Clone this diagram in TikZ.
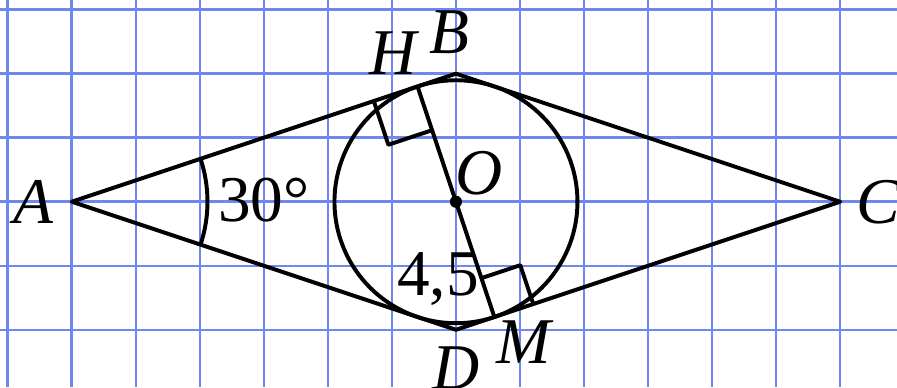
\documentclass[tikz,border=0pt]{standalone}
\usepackage{fontspec}
\setmainfont{Liberation Serif}
\usetikzlibrary{calc}
\definecolor{gridblue}{RGB}{112,135,242}
\begin{document}
\begin{tikzpicture}[x=1cm,y=1cm,
  gridline/.style={draw=gridblue,line width=1.1pt},
  fig/.style={draw=black,line width=1.75pt,line join=round},
  lbl/.style={font=\fontsize{29}{34}\selectfont\itshape,inner sep=0pt},
  num/.style={font=\fontsize{29}{34}\selectfont,inner sep=0pt}]
\useasboundingbox (-1.12,-2.894) rectangle (12.887,3.15);
\foreach \x in {-1,...,12} \draw[gridline] (\x,-2.894) -- (\x,3.15);
\foreach \y in {-2,...,3} \draw[gridline] (-1.12,\y) -- (12.887,\y);
\coordinate (A) at (0,0);
\coordinate (B) at (6,2);
\coordinate (C) at (12,0);
\coordinate (D) at (6,-2);
\coordinate (O) at (6,0);
\coordinate (H) at (5.4,1.8);
\coordinate (M) at (6.6,-1.8);
\draw[fig] (A) -- (B) -- (C) -- (D) -- cycle;
\draw[fig] (O) circle (1.897);
\draw[fig] (H) -- (M);
% right angle marks
\draw[fig] ($(H)!0.72cm!(A)$) -- ($(H)!0.72cm!(A) + (H)!0.72cm!(O) - (H)$) -- ($(H)!0.72cm!(O)$);
\draw[fig] ($(M)!0.64cm!(C)$) -- ($(M)!0.64cm!(C) + (M)!0.64cm!(O) - (M)$) -- ($(M)!0.64cm!(O)$);
\draw[fig] (A) ++(-18.435:2.12) arc[start angle=-18.435,end angle=18.435,radius=2.12];
\fill (O) circle (0.095);
\node[lbl] (lA) at (-0.6,0) {A};
\node[lbl] (lB) at (5.9,2.64) {B};
\node[lbl] (lC) at (12.6,0) {C};
\node[lbl] (lD) at (6.0,-2.6) {D};
\node[lbl] (lH) at (5.02,2.32) {H};
\node[lbl] (lO) at (6.36,0.45) {O};
\node[lbl] (lM) at (7.05,-2.2) {M};
\node[num] (l45) at (5.72,-1.2) {4,5};
\node[num] (l30) at (3.0,0.03) {30°};
\end{tikzpicture}
\end{document}
